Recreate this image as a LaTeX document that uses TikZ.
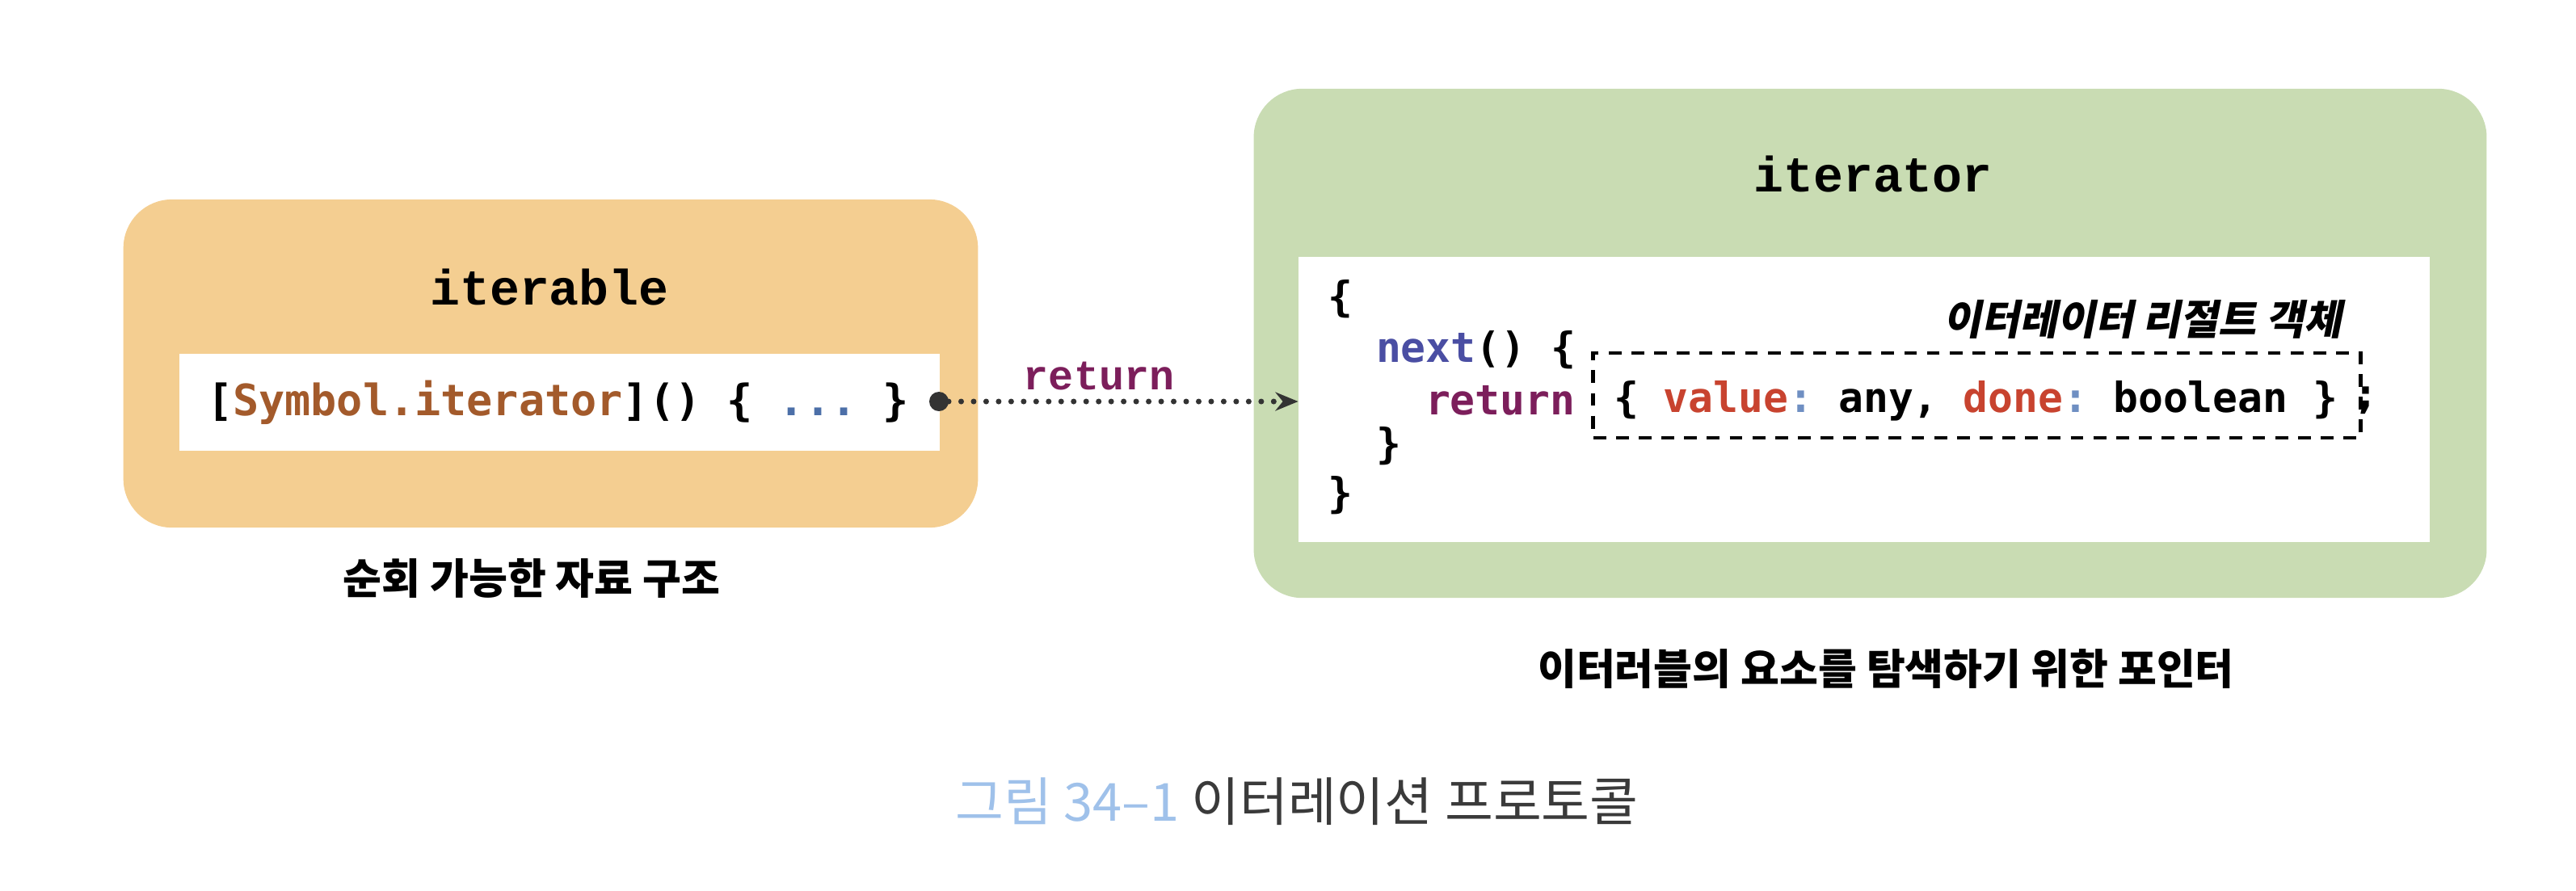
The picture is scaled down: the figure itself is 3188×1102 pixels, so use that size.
\documentclass[tikz,border=0pt]{standalone}
\usepackage{fontspec}
\usepackage{tikz}
\usetikzlibrary{arrows.meta}
\setmonofont{DejaVu Sans Mono}
\newfontfamily\slabfont{Liberation Mono}
\newfontfamily\hanfont{Noto Sans CJK KR}
\newfontfamily\hanslant[FakeSlant=0.2]{Noto Sans CJK KR}

\definecolor{iterorange}{HTML}{F4CE91}
\definecolor{itergreen}{HTML}{C9DCB3}
\definecolor{symbrown}{HTML}{A35A2B}
\definecolor{dotblue}{HTML}{4C6FA8}
\definecolor{nextblue}{HTML}{4A4EA3}
\definecolor{retplum}{HTML}{7C1E5B}
\definecolor{keyred}{HTML}{C8432F}
\definecolor{colonblue}{HTML}{6F8FC2}
\definecolor{capblue}{HTML}{9FC1EA}
\definecolor{capgray}{HTML}{3A3A3A}
\definecolor{inkgray}{HTML}{333333}

\begin{document}
\begin{tikzpicture}
[x=0.01cm, y=-0.01cm,
every node/.style = {inner sep=0pt, outer sep=0pt},
panel/.style = {rectangle, rounded corners=0.6cm},
codestrip/.style = {rectangle, fill=white},
titletext/.style = {font=\slabfont\bfseries\fontsize{17.5pt}{20pt}\selectfont},
codetext/.style = {font=\ttfamily\bfseries\fontsize{14.6pt}{17pt}\selectfont, anchor=west},
bigcode/.style = {codetext, font=\ttfamily\bfseries\fontsize{15.2pt}{18pt}\selectfont},
retlabel/.style = {font=\slabfont\bfseries\fontsize{14.7pt}{17pt}\selectfont, text=retplum},
resbox/.style = {rectangle, draw=black, line width=1.3pt, dash pattern=on 4.5pt off 3.5pt},
resultnote/.style = {font=\hanslant\bfseries\fontsize{14.5pt}{17pt}\selectfont},
captext/.style = {font=\hanfont\bfseries\fontsize{14.8pt}{17pt}\selectfont},
figcap/.style = {font=\hanfont\fontsize{18.5pt}{21pt}\selectfont, text=capgray},
dot/.style = {circle, fill=inkgray, minimum size=0.24cm},
retarrow/.style = {draw=inkgray, line width=2pt, line cap=round,
	dash pattern=on 0pt off 4.4pt, -{Stealth[length=8pt,width=6.5pt]}},
]
\useasboundingbox (0,0) rectangle (3188,1102);

% iterable
\node[panel, fill=iterorange, minimum width=10.57cm, minimum height=4.06cm] (iterable) at (681.5,450) {};
\node[codestrip, minimum width=9.41cm, minimum height=1.2cm] (iterablecode) at (692.5,498) {};
\node[titletext] (iterabletitle) at (680,355) {iterable};
\node[bigcode] (symcode) at (256,498)
	{[\textcolor{symbrown}{Symbol.iterator}]() \{ \textcolor{dotblue}{...} \}};
\node[dot] (retdot) at (1162,497) {};
\node[captext] (iterablecap) at (658,716) {순회 가능한 자료 구조};

% iterator
\node[panel, fill=itergreen, minimum width=15.25cm, minimum height=6.3cm] (iterator) at (2314.5,425) {};
\node[codestrip, minimum width=14cm, minimum height=3.53cm] (iteratorcode) at (2307,494.5) {};
\node[titletext] (iteratortitle) at (2318,215) {iterator};
\node[codetext] (openbrace) at (1643,370) {\{};
\node[codetext] (nextline) at (1703,433) {\textcolor{nextblue}{next}() \{};
\node[codetext] (returnline) at (1764,496) {\textcolor{retplum}{return}};
\node[resbox, minimum width=9.49cm, minimum height=1.05cm] (resultbox) at (2446.5,489.5) {};
\node[codetext] (resultobj) at (1997,496)
	{\{ \textcolor{keyred}{value}\textcolor{colonblue}{:} any, \textcolor{keyred}{done}\textcolor{colonblue}{:} boolean \}};
\node[codetext] (semi) at (2912,496) {;};
\node[codetext] (closenext) at (1703,552) {\}};
\node[codetext] (closebrace) at (1643,613) {\}};
\node[resultnote, anchor=east] (resultnote) at (2898,395) {이터레이터 리절트 객체};
\node[captext] (iteratorcap) at (2334,828) {이터러블의 요소를 탐색하기 위한 포인터};

\draw[retarrow] (retdot) -- (retdot -| iteratorcode.west)
	node[retlabel, pos=0.43, above=4pt] (retword) {return};

\node[figcap] (figcaption) at (1605,992) {\textcolor{capblue}{그림 34–1} 이터레이션 프로토콜};
\end{tikzpicture}
\end{document}
